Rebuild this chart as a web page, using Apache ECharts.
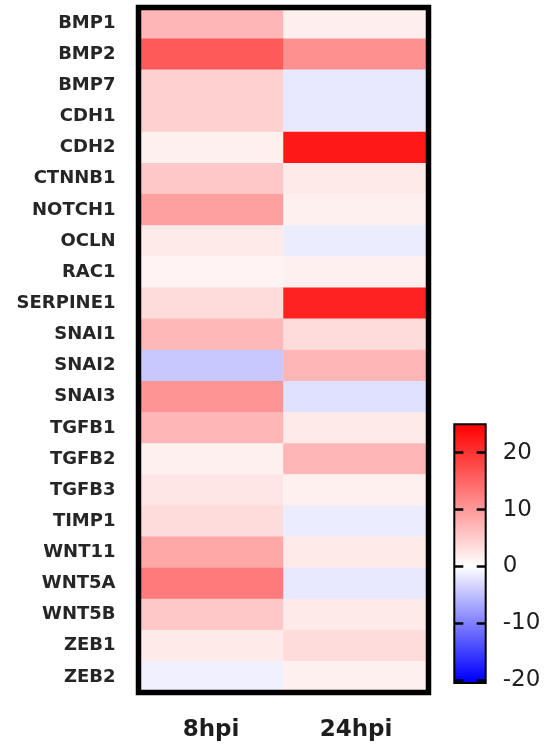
<!DOCTYPE html>
<html>
<head>
<meta charset="utf-8">
<script src="https://cdn.jsdelivr.net/npm/echarts@6/dist/echarts.min.js"></script>
<style>
html,body{margin:0;padding:0;background:#fff;}
#chart{width:548px;height:748px;}
</style>
</head>
<body>
<div id="chart"></div>
<script>
// ---- data ----
var genes = ['BMP1','BMP2','BMP7','CDH1','CDH2','CTNNB1','NOTCH1','OCLN','RAC1','SERPINE1','SNAI1','SNAI2','SNAI3','TGFB1','TGFB2','TGFB3','TIMP1','WNT11','WNT5A','WNT5B','ZEB1','ZEB2'];
var timepoints = ['8hpi','24hpi'];
var values8hpi  = [7.2, 16.2, 4.6, 4.6, 1.5, 5.4, 9.3, 2.1, 1.2, 3.4, 7.0, -4.3, 10.5, 7.2, 1.5, 2.5, 3.4, 8.5, 13.0, 5.4, 2.1, -1.2];
var values24hpi = [1.7, 10.9, -1.8, -1.8, 22.6, 2.1, 1.5, -1.5, 1.5, 21.7, 3.4, 7.2, -2.4, 2.1, 7.2, 1.5, -1.5, 2.1, -1.8, 2.1, 3.4, 1.5];
var colorbarTicks = [-20, -10, 0, 10, 20];
var scaleMin = -20.5, scaleMax = 25;

var cells = [];
genes.forEach(function (g, i) {
  cells.push([0, i, values8hpi[i]]);
  cells.push([1, i, values24hpi[i]]);
});

// blue - white - red colormap, white at 0
function cmap(v) {
  var r, g, b;
  if (v < 0) {
    var t = Math.min(1, -v / 20);
    r = g = Math.round(255 * (1 - t)); b = 255;
  } else {
    var t2 = Math.min(1, v / 25);
    r = 255; g = b = Math.round(255 * (1 - t2));
  }
  return 'rgb(' + r + ',' + g + ',' + b + ')';
}
var stops = [];
for (var v = scaleMin; v <= scaleMax + 1e-9; v += 0.5) stops.push(cmap(v));

var FONT = 'DejaVu Sans';
var chart = echarts.init(document.getElementById('chart'), null, {renderer: 'canvas'});
chart.setOption({
  animation: false,
  backgroundColor: '#fff',
  grid: [
    {left: 138.5, top: 7.5, width: 290, height: 685, show: true, borderColor: '#000', borderWidth: 5.5, backgroundColor: 'transparent', z: 10},
    {left: 454.3, top: 424.3, width: 31.4, height: 258.7, show: true, borderColor: '#000', borderWidth: 2, backgroundColor: 'transparent', z: 10}
  ],
  xAxis: [
    {type: 'category', gridIndex: 0, data: timepoints,
     axisLine: {show: false}, axisTick: {show: false}, splitLine: {show: false},
     axisLabel: {fontFamily: FONT, fontWeight: 'bold', fontSize: 23, color: '#1e1e1e', margin: 26}},
    {type: 'value', gridIndex: 1, show: false, min: 0, max: 1}
  ],
  yAxis: [
    {type: 'category', gridIndex: 0, data: genes, inverse: true,
     axisLine: {show: false}, axisTick: {show: false}, splitLine: {show: false},
     axisLabel: {fontFamily: FONT, fontWeight: 'bold', fontSize: 18, color: '#262626', margin: 23}},
    {type: 'value', gridIndex: 1, position: 'right', min: scaleMin, max: scaleMax, z: 11,
     axisLine: {show: false, onZero: false}, splitLine: {show: false},
     axisTick: {show: true, inside: true, length: 9, customValues: colorbarTicks, lineStyle: {color: '#000', width: 2.5}},
     axisLabel: {show: true, customValues: colorbarTicks, fontFamily: FONT, fontSize: 23, color: '#1e1e1e', margin: 17}},
    {type: 'value', gridIndex: 1, position: 'left', min: scaleMin, max: scaleMax, z: 11,
     axisLine: {show: false, onZero: false}, splitLine: {show: false},
     axisTick: {show: true, inside: true, length: 9, customValues: colorbarTicks, lineStyle: {color: '#000', width: 2.5}},
     axisLabel: {show: false}}
  ],
  visualMap: {
    type: 'continuous', min: scaleMin, max: scaleMax, seriesIndex: 0,
    calculable: false, hoverLink: false, show: true,
    left: 454.3, top: 424.3, padding: 0, itemWidth: 31.4, itemHeight: 258.7,
    inRange: {color: stops},
    textStyle: {color: 'transparent'}
  },
  series: [{
    type: 'heatmap', xAxisIndex: 0, yAxisIndex: 0, data: cells,
    itemStyle: {borderWidth: 0},
    emphasis: {disabled: true},
    label: {show: false}
  }]
});
</script>
</body>
</html>
